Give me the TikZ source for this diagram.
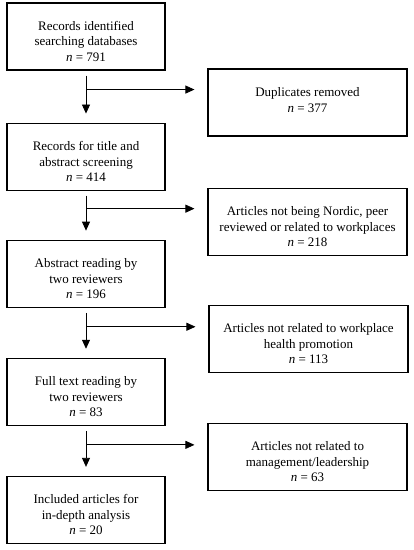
\documentclass[tikz,border=0pt]{standalone}
\usepackage{fontspec}
\setmainfont{Liberation Serif}
\usetikzlibrary{positioning, calc, arrows.meta}
\tikzset{box/.style={draw, line width=1.1pt, minimum width=158pt, minimum height=67pt, align=center, inner sep=0pt, text height=50pt, font=\fontsize{13}{15.5}\selectfont}}
\tikzset{side/.style={box, minimum width=199pt}}
\tikzset{flow/.style={line width=0.8pt, -{Triangle[length=9pt, width=8pt]}}}

\begin{document}
\begin{tikzpicture}[x=1pt, y=1pt]
  \useasboundingbox (0,0) rectangle (414,-550);

  % left column
  \node[box] (rec) at (86,-36.5) {Records identified\\searching databases\\\textit{n} = 791};
  \node[box] (scr) [below=52pt of rec] {Records for title and\\abstract screening\\\textit{n} = 414};
  \node[box] (abs) [below=49pt of scr] {Abstract reading by\\two reviewers\\\textit{n} = 196};
  \node[box] (full) [below=50pt of abs] {Full text reading by\\two reviewers\\\textit{n} = 83};
  \node[box] (incl) [below=50pt of full] {Included articles for\\in-depth analysis\\\textit{n} = 20};

  % excluded
  \node[side, text height=20pt] (dup) at ($(rec)+(221.5,-66)$) {Duplicates removed\\\textit{n} = 377};
  \node[side] (nord) at ($(scr)+(221.5,-65)$) {Articles not being Nordic, peer\\reviewed or related to workplaces\\\textit{n} = 218};
  \node[side] (whp) at ($(abs)+(222.5,-65)$) {Articles not related to workplace\\health promotion\\\textit{n} = 113};
  \node[side] (lead) at ($(full)+(221.5,-65)$) {Articles not related to\\management/leadership\\\textit{n} = 63};

  \coordinate (b1) at ($(rec.south)-(0,19)$);
  \coordinate (b2) at ($(scr.south)-(0,18)$);
  \coordinate (b3) at ($(abs.south)-(0,19)$);
  \coordinate (b4) at ($(full.south)-(0,19)$);

  \draw[flow, shorten <=5pt, shorten >=9pt] (rec.south) -- (scr.north);
  \draw[flow, shorten <=5pt, shorten >=9pt] (scr.south) -- (abs.north);
  \draw[flow, shorten <=5pt, shorten >=9pt] (abs.south) -- (full.north);
  \draw[flow, shorten <=5pt, shorten >=9pt] (full.south) -- (incl.north);

  \draw[flow, shorten >=13pt] (b1) -- (b1 -| dup.west);
  \draw[flow, shorten >=13pt] (b2) -- (b2 -| nord.west);
  \draw[flow, shorten >=13pt] (b3) -- (b3 -| whp.west);
  \draw[flow, shorten >=13pt] (b4) -- (b4 -| lead.west);

\end{tikzpicture}
\end{document}
